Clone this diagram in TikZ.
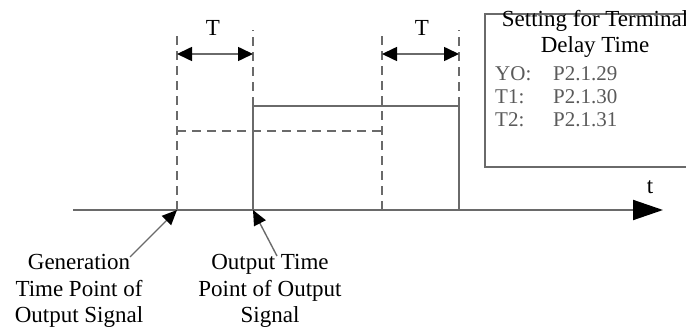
\documentclass[tikz,border=0pt]{standalone}
\usepackage{fontspec}
\setmainfont{Liberation Serif}
\usetikzlibrary{arrows.meta}
\definecolor{linegray}{HTML}{6A6A6A}
\definecolor{textgray}{HTML}{5A5A5A}
\tikzset{
  guide/.style={draw=linegray, line width=1.6pt, dash pattern=on 9pt off 6pt},
  level/.style={draw=linegray, line width=1.8pt},
  axis/.style={draw=linegray, line width=2pt, -{Triangle[length=30pt, width=20pt, color=black]}},
  pointer/.style={draw=linegray, line width=1.4pt, -{Triangle[length=15pt, width=13pt, color=black]}},
  span/.style={draw=linegray, line width=1.6pt, {Triangle[length=15pt, width=14pt, color=black]}-{Triangle[length=15pt, width=14pt, color=black]}},
  caption/.style={align=center, inner sep=0pt, font=\fontsize{23}{26.5}\selectfont},
  param/.style={anchor=base west, inner sep=0pt, text=textgray, font=\fontsize{21}{23}\selectfont}
}

\begin{document}
\begin{tikzpicture}[x=1pt, y=-1pt]
  \useasboundingbox (0,0) rectangle (686,334);

  % time axis and marked instants
  \coordinate (start) at (73,210);
  \coordinate (tip) at (663,210);
  \coordinate (gen) at (177,210);
  \coordinate (out) at (253,210);
  \coordinate (gen2) at (382,210);
  \coordinate (out2) at (459,210);
  \draw[axis] (start) -- (tip);
  \node[caption] (tname) at (650,187) {t};

  % guide lines
  \draw[guide] (gen) -- ++(0,-178);
  \draw[guide] (gen2) -- ++(0,-178);
  \draw[guide] (out) ++(0,-104) -- ++(0,-76);
  \draw[guide] (out2) ++(0,-104) -- ++(0,-76);
  \draw[guide] (gen) ++(0,-79) -- ++(205,0);

  % output signal
  \draw[level] (out) -- ++(0,-104) -- ++(206,0) -- (out2);

  % delay spans
  \draw[span] (gen) ++(0,-156) coordinate (t1a) -- ++(76,0) coordinate (t1b);
  \draw[span] (gen2) ++(0,-156) coordinate (t2a) -- ++(77,0) coordinate (t2b);
  \node[caption] (tlabel1) at (213,28) {T};
  \node[caption] (tlabel2) at (422,28) {T};

  % parameter box
  \draw[level] (485,14) rectangle (700,167);
  \node[caption] (boxtitle) at (595,34) {Setting for Terminal\\Delay Time};
  \foreach \name/\val/\y in {YO/P2.1.29/81, T1/P2.1.30/104, T2/P2.1.31/127} {
    \node[param] (n\name) at (495,\y) {\name:};
    \node[param] (v\name) at (553,\y) {\val};
  }

  % instant labels
  \node[caption] (genlabel) at (79,291) {Generation\\Time Point of\\Output Signal};
  \node[caption] (outlabel) at (270,291) {Output Time\\Point of Output\\Signal};
  \coordinate (gentail) at (130,257);
  \coordinate (outtail) at (277,256);
  \draw[pointer] (gentail) -- (gen);
  \draw[pointer] (outtail) -- (out);
\end{tikzpicture}
\end{document}
